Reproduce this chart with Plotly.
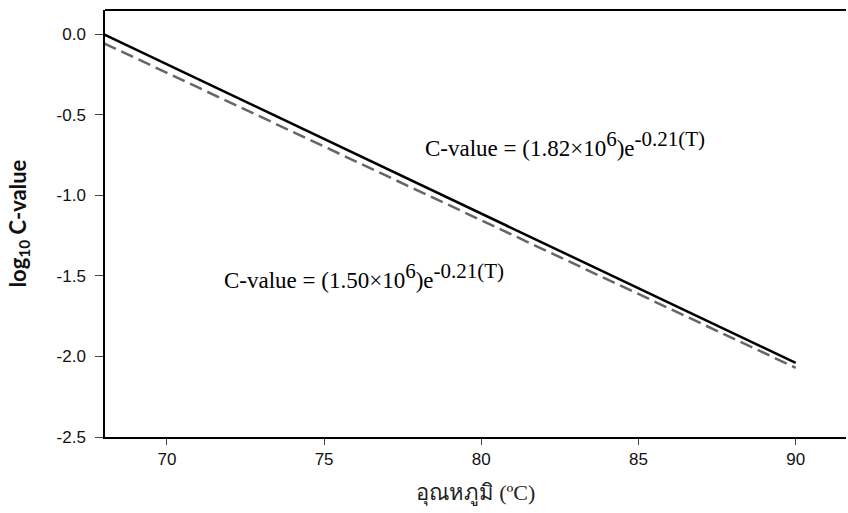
import plotly.graph_objects as go

temps = [68, 90]
log_c_182 = [0.0, -2.04]
log_c_150 = [-0.055, -2.07]
x_ticks = [70, 75, 80, 85, 90]
y_ticks = [0.0, -0.5, -1.0, -1.5, -2.0, -2.5]
y_tick_labels = ["0.0", "-0.5", "-1.0", "-1.5", "-2.0", "-2.5"]
sup_style = "font-size:21px"
eq_182 = ("C-value = (1.82×10<sup><span style='%s'>6</span></sup>)e"
          "<sup><span style='%s'>-0.21(T)</span></sup>" % (sup_style, sup_style))
eq_150 = ("C-value = (1.50×10<sup><span style='%s'>6</span></sup>)e"
          "<sup><span style='%s'>-0.21(T)</span></sup>" % (sup_style, sup_style))

fig = go.Figure()
fig.add_trace(go.Scatter(x=temps, y=log_c_150, mode="lines",
                         line=dict(color="#666666", width=2.5, dash="13px,6px"),
                         showlegend=False, hoverinfo="skip"))
fig.add_trace(go.Scatter(x=temps, y=log_c_182, mode="lines",
                         line=dict(color="black", width=2.5),
                         showlegend=False, hoverinfo="skip"))

fig.add_annotation(x=78.15, y=-0.68, text=eq_182, showarrow=False,
                   xanchor="left", yanchor="middle",
                   font=dict(family="Liberation Serif", size=23, color="black"))
fig.add_annotation(x=71.75, y=-1.50, text=eq_150, showarrow=False,
                   xanchor="left", yanchor="middle",
                   font=dict(family="Liberation Serif", size=23, color="black"))

# top frame line (reference has top, left and bottom lines only)
fig.add_shape(type="line", xref="paper", yref="paper", x0=0, x1=1, y0=1, y1=1,
              line=dict(color="black", width=2))

fig.update_layout(
    width=848, height=513,
    margin=dict(l=105, r=2, t=10, b=76),
    paper_bgcolor="white", plot_bgcolor="white",
    xaxis=dict(range=[68.03, 91.6], tickvals=x_ticks, ticks="outside", ticklen=6,
               tickcolor="#444", showline=True, linecolor="black", linewidth=1.5,
               mirror=False, showgrid=False, zeroline=False,
               tickfont=dict(family="Liberation Sans", size=17, color="#111"),
               title=dict(text="อุณหภูมิ (ºC)", standoff=16,
                          font=dict(family="Liberation Serif", size=22, color="#222"))),
    yaxis=dict(range=[-2.5, 0.152], tickvals=y_ticks, ticktext=y_tick_labels,
               ticks="outside", ticklen=8, tickcolor="#444", showline=True,
               linecolor="black", linewidth=1.5, showgrid=False, zeroline=False,
               ticklabelstandoff=6,
               tickfont=dict(family="Liberation Sans", size=17, color="#111"),
               title=dict(text="<b>log<sub>10</sub> C-value</b>", standoff=24,
                          font=dict(family="Lato", size=22, color="#111"))),
)

fig.write_html("out.html")
